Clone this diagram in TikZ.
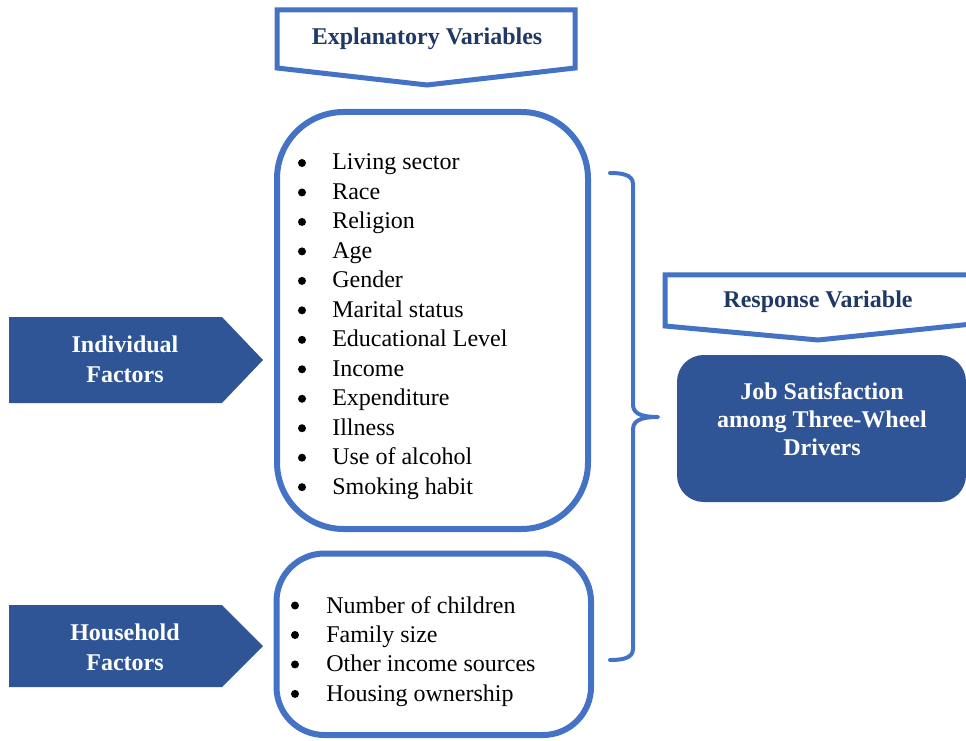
\documentclass[tikz,border=0pt]{standalone}
\usepackage{fontspec}
\setmainfont{Liberation Serif}
\definecolor{lineblue}{HTML}{4472C4}
\definecolor{fillblue}{HTML}{2F5597}
\definecolor{navy}{HTML}{1F3864}
\begin{document}
\begin{tikzpicture}[x=0.75pt,y=-0.75pt,
  outline/.style={draw=lineblue,line width=4.5pt,line join=round},
  banner/.style={draw=lineblue,line width=3.75pt,line join=miter,fill=white},
  pent/.style={fill=fillblue},
  ttl/.style={font=\fontsize{18}{22}\selectfont\bfseries,text=navy,inner sep=0pt},
  wtxt/.style={font=\fontsize{18}{22.5}\selectfont\bfseries,text=white,align=center,inner sep=0pt},
  lst/.style={font=\fontsize{18}{22.1}\selectfont,inner sep=0pt,anchor=base west},
  dot/.style={fill=black}]
\useasboundingbox (0,0) rectangle (966,741);
% top banner
\draw[banner] (277,10) -- (575,10) -- (575,68) -- (427,85) -- (277,68) -- cycle;
\node[ttl] (ev) at (427,39) {Explanatory Variables};
% box 1
\draw[outline,rounded corners=50] (277,112) rectangle (588,529);
\node[lst] (l1) at (332,170) {\begin{tabular}[t]{@{}l@{}}
Living sector\\ Race\\ Religion\\ Age\\ Gender\\ Marital status\\
Educational Level\\ Income\\ Expenditure\\ Illness\\ Use of alcohol\\ Smoking habit
\end{tabular}};
\foreach \i in {0,...,11} \fill[dot] (302,{163+29.47*\i}) circle (3pt);
% box 2
\draw[outline,rounded corners=36] (276.5,553.5) rectangle (591,735);
\node[lst] (l2) at (326,613) {\begin{tabular}[t]{@{}l@{}}
Number of children\\ Family size\\ Other income sources\\ Housing ownership
\end{tabular}};
\foreach \i in {0,...,3} \fill[dot] (295,{605.5+29.47*\i}) circle (3pt);
% left arrows
\fill[pent] (9,317) -- (222,317) -- (263,360) -- (222,403) -- (9,403) -- cycle;
\node[wtxt] (ind) at (125,359) {Individual\\Factors};
\fill[pent] (9,605) -- (222,605) -- (263,646) -- (222,687) -- (9,687) -- cycle;
\node[wtxt] (hh) at (125,647) {Household\\Factors};
% brace
\coordinate (bt) at (610,173);
\coordinate (bm) at (658,417);
\coordinate (bb) at (610,660);
\draw[draw=lineblue,line width=3pt,line cap=round,line join=round]
  (bt) to[out=0,in=90] (633,184) -- (633,405) to[out=-90,in=180] (bm)
  to[out=180,in=90] (633,429) -- (633,649) to[out=-90,in=0] (bb);
% right banner
\draw[banner] (665,275) -- (972,275) -- (972,324) -- (818,340) -- (665,326) -- cycle;
\node[ttl] (rv) at (818,302) {Response Variable};
% job satisfaction box
\fill[fillblue,rounded corners=20] (677,355) rectangle (966,502);
\node[wtxt,font=\fontsize{18}{21}\selectfont\bfseries] (js) at (822,419) {Job Satisfaction\\among Three-Wheel\\Drivers};
\end{tikzpicture}
\end{document}
